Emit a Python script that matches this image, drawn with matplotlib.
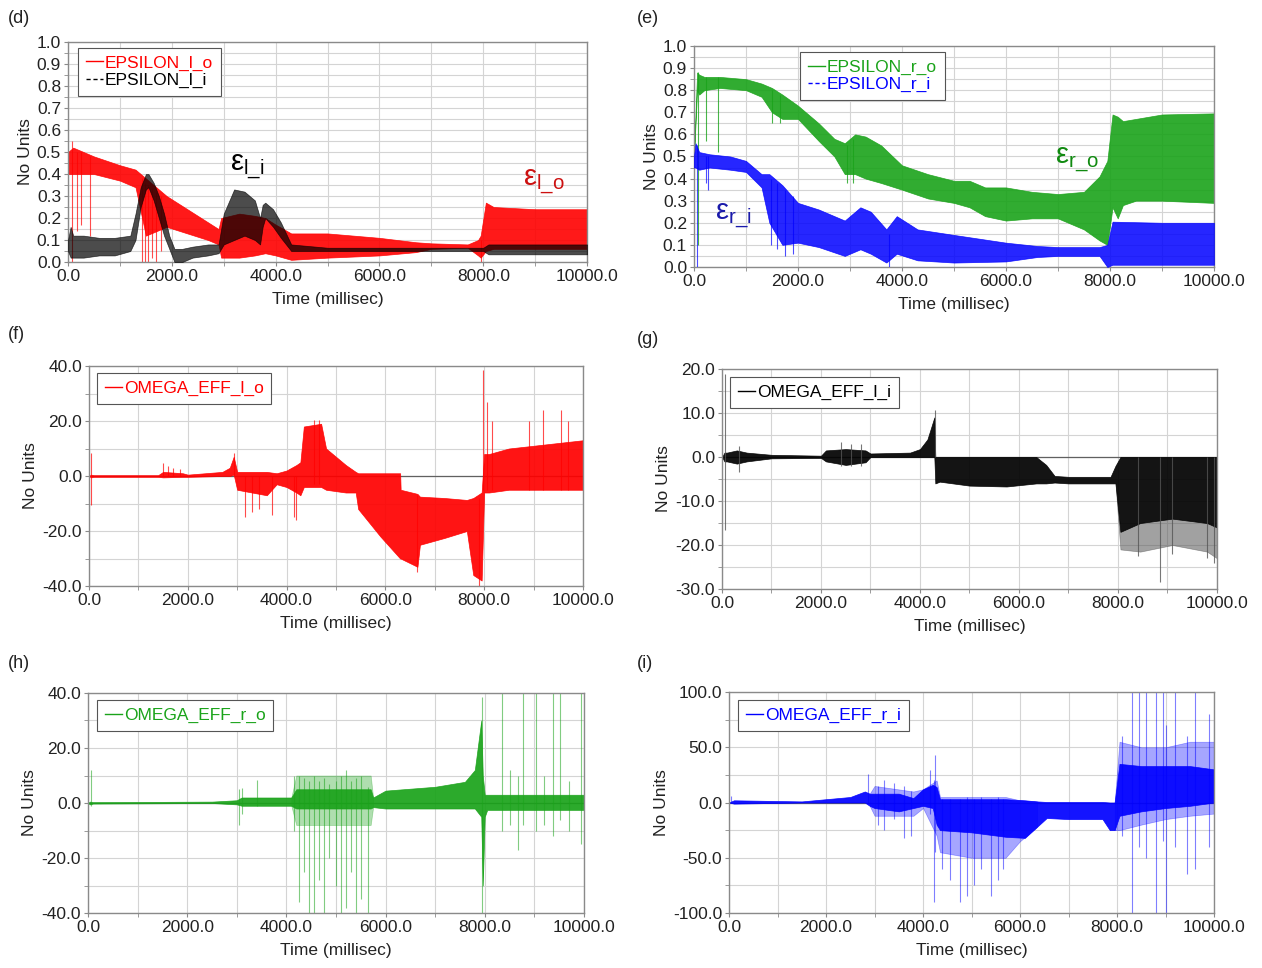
import matplotlib
matplotlib.use("Agg")
import matplotlib.pyplot as plt
from matplotlib.lines import Line2D
from matplotlib.ticker import MultipleLocator, FormatStrFormatter

plt.rcParams['font.family'] = ['Liberation Sans', 'DejaVu Sans']
plt.rcParams['font.size'] = 12

# ---------------- data ----------------
# (d) EPSILON_l_o  (dense oscillation envelope)
d_o_t  = [0, 100, 500, 1000, 1300, 1500, 1700, 1900, 2300, 2700, 2900, 2950, 3300, 3600, 3800, 4000, 4300, 5000, 6000, 6700, 7000, 7700, 7900, 7950, 8050, 8200, 9000, 10000]
d_o_hi = [0.50, 0.52, 0.48, 0.44, 0.42, 0.38, 0.34, 0.30, 0.24, 0.18, 0.15, 0.20, 0.22, 0.21, 0.20, 0.17, 0.13, 0.13, 0.11, 0.09, 0.085, 0.08, 0.10, 0.12, 0.27, 0.25, 0.24, 0.24]
d_o_lo = [0.40, 0.40, 0.40, 0.37, 0.34, 0.12, 0.14, 0.16, 0.13, 0.10, 0.08, 0.02, 0.02, 0.03, 0.04, 0.03, 0.01, 0.02, 0.03, 0.045, 0.06, 0.065, 0.03, 0.02, 0.05, 0.06, 0.06, 0.06]
d_o_sp_t  = [70, 170, 250, 420, 1420, 1480, 1550, 1620, 1700, 1800, 7950]
d_o_sp_lo = [0.0, 0.14, 0.17, 0.12, 0.0, 0.0, 0.0, 0.02, 0.0, 0.05, 0.0]
d_o_sp_hi = [0.55, 0.50, 0.50, 0.48, 0.38, 0.36, 0.35, 0.33, 0.32, 0.30, 0.10]
# (d) EPSILON_l_i
d_i_t  = [0, 50, 100, 300, 600, 900, 1200, 1300, 1400, 1500, 1550, 1650, 1750, 1850, 1950, 2050, 2200, 2400, 2700, 2900, 3000, 3200, 3400, 3600, 3700, 3750, 3800, 3950, 4100, 4300, 5000, 6000, 7000, 8000, 8100, 9000, 10000]
d_i_hi = [0.10, 0.16, 0.12, 0.12, 0.11, 0.11, 0.12, 0.22, 0.34, 0.40, 0.40, 0.36, 0.30, 0.22, 0.12, 0.06, 0.06, 0.07, 0.08, 0.08, 0.22, 0.33, 0.32, 0.28, 0.20, 0.26, 0.27, 0.24, 0.18, 0.08, 0.065, 0.065, 0.065, 0.065, 0.08, 0.08, 0.08]
d_i_lo = [0.05, 0.02, 0.02, 0.02, 0.03, 0.03, 0.05, 0.10, 0.25, 0.33, 0.34, 0.28, 0.20, 0.12, 0.06, 0.00, 0.00, 0.02, 0.03, 0.04, 0.08, 0.10, 0.12, 0.10, 0.08, 0.16, 0.20, 0.16, 0.11, 0.05, 0.05, 0.05, 0.05, 0.05, 0.035, 0.035, 0.035]

# (e) EPSILON_r_o
e_o_t  = [0, 60, 100, 200, 500, 1000, 1300, 1500, 1700, 2000, 2400, 2700, 2900, 3100, 3300, 3600, 4000, 4500, 5000, 5300, 5600, 6000, 6500, 7000, 7500, 7800, 7950, 8050, 8150, 8250, 8500, 9000, 10000]
e_o_hi = [0.50, 0.88, 0.87, 0.86, 0.86, 0.85, 0.83, 0.81, 0.78, 0.73, 0.65, 0.58, 0.56, 0.60, 0.59, 0.55, 0.46, 0.42, 0.39, 0.39, 0.36, 0.36, 0.34, 0.33, 0.34, 0.41, 0.48, 0.69, 0.68, 0.66, 0.67, 0.69, 0.695]
e_o_lo = [0.50, 0.80, 0.78, 0.80, 0.81, 0.80, 0.77, 0.70, 0.67, 0.67, 0.57, 0.50, 0.42, 0.42, 0.40, 0.38, 0.35, 0.31, 0.29, 0.27, 0.23, 0.21, 0.22, 0.22, 0.17, 0.12, 0.10, 0.27, 0.22, 0.28, 0.30, 0.30, 0.29]
e_o_sp_t  = [80, 240, 470, 1500, 1650, 2950, 3050]
e_o_sp_lo = [0.10, 0.57, 0.52, 0.65, 0.65, 0.38, 0.38]
e_o_sp_hi = [0.88, 0.86, 0.86, 0.80, 0.78, 0.55, 0.58]
# (e) EPSILON_r_i
e_i_t  = [0, 30, 100, 300, 700, 1000, 1300, 1450, 1700, 2000, 2400, 2900, 3200, 3400, 3700, 3900, 4300, 5000, 6000, 6600, 7000, 7800, 7950, 8050, 9000, 10000]
e_i_hi = [0.50, 0.56, 0.52, 0.51, 0.50, 0.48, 0.42, 0.42, 0.37, 0.29, 0.26, 0.21, 0.27, 0.25, 0.17, 0.23, 0.17, 0.145, 0.11, 0.095, 0.09, 0.09, 0.10, 0.205, 0.20, 0.20]
e_i_lo = [0.45, 0.45, 0.44, 0.45, 0.44, 0.43, 0.36, 0.20, 0.10, 0.11, 0.09, 0.05, 0.08, 0.06, 0.02, 0.06, 0.03, 0.02, 0.025, 0.045, 0.05, 0.05, 0.00, 0.01, 0.01, 0.01]
e_i_sp_t  = [60, 230, 265, 1480, 1600, 1750, 1900, 3750]
e_i_sp_lo = [0.0, 0.38, 0.35, 0.10, 0.08, 0.05, 0.06, 0.0]
e_i_sp_hi = [0.55, 0.50, 0.50, 0.40, 0.38, 0.35, 0.32, 0.15]

# (f) OMEGA_EFF_l_o
f_t  = [0, 40, 100, 1400, 1500, 1900, 2000, 2700, 2850, 2930, 3000, 3300, 3600, 3800, 4000, 4200, 4280, 4350, 4700, 4800, 5200, 5400, 5450, 5900, 6300, 6310, 6650, 6700, 7200, 7650, 7780, 7950, 8000, 8100, 8500, 9000, 9500, 10000]
f_hi = [0, 0.5, 0.3, 0.3, 1.5, 1.0, 0.5, 1.5, 3, 7, 1.5, 1.5, 1.5, 1.0, 2, 4, 5, 18, 19, 10, 4, 1.5, 1.0, 1.0, 1.0, -5, -6.5, -7.5, -8, -8.7, -8, -6, 8, 8, 10, 11, 12, 13]
f_lo = [0, -0.5, -0.3, -0.3, -0.5, -0.3, -0.3, 0.0, 0.0, 0.5, -5, -6, -7, -3, -4, -6, -7, -4, -4, -5, -6, -6, -12, -22, -30, -30, -33, -25, -22.5, -20, -36, -38, -6, -6, -5, -5, -5, -5]
f_sp_t  = [50, 1500, 1600, 1700, 1850, 2930, 3150, 3300, 3450, 3700, 4150, 4200, 4550, 4650, 6650, 7900, 7980, 8050, 8150, 8900, 9200, 9550, 9700]
f_sp_lo = [-10.5, 0, 0, 0, 0, 0, -15, -13, -12, -14, -15, -16, -3, -3, -35, -40, -5, -5, -5, -5, -5, -5, -5]
f_sp_hi = [8.3, 4.8, 3.5, 3, 2.5, 8.3, 0, 0, 0, 0, 0, 0, 20.5, 20.5, -7, -8, 38.5, 27, 20, 20, 24, 24, 20]

# (g) OMEGA_EFF_l_i
g_t  = [0, 50, 100, 300, 500, 1000, 2000, 2100, 2500, 2900, 3000, 3800, 4000, 4150, 4290, 4310, 4400, 5000, 5750, 6350, 6550, 6720, 7000, 7850, 7950, 8050, 8450, 9100, 9800, 10000]
g_hi = [0, 1, 1, 1.5, 1.0, 0.5, 0.3, 1.5, 1.8, 1.5, 0.8, 1.0, 1.8, 4, 9, 0, 0, 0, 0, 0, -1.8, -4.3, -4.5, -4.5, -2, 0, 0, 0, 0, 0]
g_lo = [0, -1, -1, -1.5, -1.0, -0.3, -0.2, -1.0, -1.8, -1.2, 0, 0, 0, 0, 0, -6, -5.6, -6.5, -6.7, -6, -6, -5.8, -6, -6, -6, -17, -15, -14, -15, -16]
g_faint_t  = [7950, 8050, 8450, 9100, 9800, 10000]
g_faint_hi = [-6, -17, -15, -14, -15, -16]
g_faint_lo = [-6, -21, -21.5, -20, -21.5, -23]
g_sp_t  = [60, 350, 2400, 2600, 2800, 4300, 8400, 8850, 9100, 9800, 9950]
g_sp_lo = [-16.6, -3.3, -2, -2, -2, 0, -22.5, -28.3, -22, -23, -24]
g_sp_hi = [18.8, 2.5, 3.5, 3, 3, 10.7, 0, 0, 0, 0, 0]

# (h) OMEGA_EFF_r_o
h_t  = [0, 40, 100, 2500, 3000, 3100, 4100, 4200, 5700, 5750, 6000, 7000, 7600, 7800, 7930, 7960, 8000, 8050, 10000]
h_hi = [0, 0.5, 0.3, 0.5, 1.0, 2.0, 2.0, 5, 5, 2, 4.5, 5.9, 7.7, 12, 30, 10, 3, 3, 3]
h_lo = [0, -0.5, -0.2, 0, -0.5, -1.0, -1.0, -2, -2, -1.5, -2, -2, -2, -2, -5, -30, -5, -2.5, -2.5]
h_faint_t  = [4100, 4200, 5700, 5750]
h_faint_hi = [2, 10, 10, 2]
h_faint_lo = [-1, -8, -8, -1.5]
h_sp_t  = [55, 3050, 3100, 3400, 4150, 4250, 4350, 4450, 4550, 4650, 4750, 4850, 5000, 5100, 5200, 5300, 5400, 5500, 5650, 7940, 8350, 8500, 8670, 8770, 9040, 9200, 9375, 9510, 9700, 9950]
h_sp_lo = [-1, -8, -4, -1, -10, -36, -25, -40, -40, -28, -40, -20, -30, -40, -38, -25, -40, -35, -40, -40, -10, -8, -17, -8, -10, -8, -12, -6, -10, -15]
h_sp_hi = [12, 5, 5.5, 8.4, 10, 10, 9, 8, 10, 8, 9, 7, 8, 10, 12, 8, 9, 10, 6, 38.7, 40, 12, 10, 40, 40, 10, 40, 40, 8, 40]

# (i) OMEGA_EFF_r_i
i_t  = [0, 100, 1500, 2000, 2500, 2800, 2900, 3000, 3500, 3800, 4000, 4200, 4280, 4350, 5000, 5700, 6100, 6350, 6550, 7000, 7700, 7850, 7950, 8050, 8500, 9000, 9500, 10000]
i_hi = [0, 2, 1, 3, 5, 10, 8, 8, 8, 4, 12, 16, 14, 3, 3, 3, 2, 1, 0.5, 0.5, 0.5, 0, 0, 35, 33, 33, 33, 30]
i_lo = [0, -1, 0, 0, 0, 0, -3, -5, -8, -5, -3, -5, -20, -25, -27, -31, -32, -22, -14, -15, -15, -25, -25, -12, -8, -5, -3, 0]
i_faint_t  = [2900, 3000, 3800, 4000, 4280, 4350, 5000, 5700, 6000, 6350]
i_faint_hi = [8, 15, 10, 12, 20, 5, 5, 5, 2, 1]
i_faint_lo = [-3, -12, -12, -5, -30, -45, -50, -50, -35, -22]
i_faint2_t  = [7950, 8050, 8500, 9000, 9500, 10000]
i_faint2_hi = [0, 55, 50, 50, 55, 55]
i_faint2_lo = [-25, -25, -20, -15, -12, -10]
i_sp_t  = [50, 2870, 3079, 3200, 3400, 3600, 3750, 4145, 4227, 4247, 4400, 4550, 4763, 4900, 5050, 5200, 5400, 5550, 5650, 8100, 8300, 8450, 8600, 8800, 8950, 9010, 9200, 9450, 9600, 9900, 10000]
i_sp_lo = [0, 0, -20, -25, -15, -32, -30, -10, -90, -45, -60, -70, -90, -85, -75, -60, -85, -70, -60, -30, -100, -40, -50, -100, -35, -100, -40, -65, -60, -40, -10]
i_sp_hi = [6, 26, 15, 20, 18, 15, 10, 29, 20, 43, 3, 3, 3, 5, 3, 5, 3, 5, 3, 60, 100, 100, 100, 100, 100, 70, 100, 60, 100, 80, 75]

RED = '#ff0000'
GREEN = '#1aa31a'
BLUE = '#0000ff'
BLACK = '#000000'
FS = 12.5

fig = plt.figure(figsize=(12.62, 9.68), dpi=100)

rects = {
    'd': [0.0539, 0.7293, 0.4113, 0.2273],
    'e': [0.5499, 0.7242, 0.4120, 0.2283],
    'f': [0.0705, 0.3946, 0.3914, 0.2273],
    'g': [0.5721, 0.3915, 0.3922, 0.2273],
    'h': [0.0697, 0.0568, 0.3930, 0.2273],
    'i': [0.5777, 0.0568, 0.3843, 0.2283],
}


def style_axes(ax, ylim, ymaj, ymin, zero_line=False):
    ax.set_xlim(0, 10000)
    ax.set_ylim(*ylim)
    ax.xaxis.set_major_locator(MultipleLocator(2000))
    ax.xaxis.set_minor_locator(MultipleLocator(1000))
    ax.yaxis.set_major_locator(MultipleLocator(ymaj))
    ax.yaxis.set_minor_locator(MultipleLocator(ymin))
    ax.xaxis.set_major_formatter(FormatStrFormatter('%.1f'))
    ax.yaxis.set_major_formatter(FormatStrFormatter('%.1f'))
    ax.grid(True, which='both', color='#d4d4d4', lw=0.8)
    ax.set_axisbelow(True)
    for s in ax.spines.values():
        s.set_color('#8a8a8a')
        s.set_linewidth(1.0)
    ax.tick_params(which='both', direction='out', color='#8a8a8a', labelsize=FS,
                   labelcolor='#222222', pad=2)
    ax.tick_params(which='major', length=3)
    ax.tick_params(which='minor', length=3)
    ax.set_xlabel('Time (millisec)', fontsize=FS, labelpad=6, color='#222222')
    ax.set_ylabel('No Units', fontsize=FS, color='#222222', labelpad=3)
    if zero_line:
        ax.axhline(0, color='#606060', lw=0.9, zorder=1.5)


def band(ax, t, lo, hi, color, alpha=0.92, z=2):
    ax.fill_between(t, lo, hi, color=color, alpha=alpha, lw=0.5, zorder=z)


def spikes(ax, t, lo, hi, color, alpha=0.55, z=2):
    ax.vlines(t, lo, hi, color=color, lw=0.8, alpha=alpha, zorder=z)


def legend(ax, entries, anchor):
    handles = [Line2D([], [], color=c, lw=1.0, ls=ls) for _, c, ls in entries]
    labels = [lab for lab, _, _ in entries]
    leg = ax.legend(handles, labels, loc='upper left', bbox_to_anchor=anchor,
                    borderaxespad=0, fancybox=False, framealpha=1,
                    edgecolor='#555555', fontsize=FS, handlelength=1.0,
                    handletextpad=0.1, borderpad=0.45, labelspacing=0.12)
    leg.get_frame().set_linewidth(0.8)
    for txt, (_, c, _) in zip(leg.get_texts(), entries):
        txt.set_color(c)
    leg.set_zorder(10)


# (d)
ax = fig.add_axes(rects['d'])
style_axes(ax, (0, 1.0), 0.1, 0.05)
band(ax, d_o_t, d_o_lo, d_o_hi, RED, alpha=0.9)
spikes(ax, d_o_sp_t, d_o_sp_lo, d_o_sp_hi, RED, alpha=0.7)
band(ax, d_i_t, d_i_lo, d_i_hi, BLACK, alpha=0.7, z=3)
legend(ax, [('EPSILON_l_o', RED, '-'), ('EPSILON_l_i', BLACK, (0, (3, 2)))], (0.019, 0.975))
ax.text(3120, 0.43, 'ε$_{\\mathregular{l\\_i}}$', fontsize=21, color=BLACK, va='center')
ax.text(8760, 0.36, 'ε$_{\\mathregular{l\\_o}}$', fontsize=21, color='#cc1010', va='center')

# (e)
ax = fig.add_axes(rects['e'])
style_axes(ax, (0, 1.0), 0.1, 0.05)
band(ax, e_o_t, e_o_lo, e_o_hi, GREEN, alpha=0.9)
spikes(ax, e_o_sp_t, e_o_sp_lo, e_o_sp_hi, GREEN, alpha=0.8)
band(ax, e_i_t, e_i_lo, e_i_hi, BLUE, alpha=0.85, z=3)
spikes(ax, e_i_sp_t, e_i_sp_lo, e_i_sp_hi, BLUE, alpha=0.7, z=3)
legend(ax, [('EPSILON_r_o', GREEN, '-'), ('EPSILON_r_i', BLUE, (0, (3, 2)))], (0.204, 0.973))
ax.text(6940, 0.48, 'ε$_{\\mathregular{r\\_o}}$', fontsize=21, color='#108a10', va='center')
ax.text(400, 0.23, 'ε$_{\\mathregular{r\\_i}}$', fontsize=21, color='#1a1aaa', va='center')

# (f)
ax = fig.add_axes(rects['f'])
style_axes(ax, (-40, 40), 20, 10, zero_line=True)
band(ax, f_t, f_lo, f_hi, RED, alpha=0.92)
spikes(ax, f_sp_t, f_sp_lo, f_sp_hi, RED, alpha=0.7)
legend(ax, [('OMEGA_EFF_l_o', RED, '-')], (0.016, 0.968))

# (g)
ax = fig.add_axes(rects['g'])
style_axes(ax, (-30, 20), 10, 5, zero_line=True)
band(ax, g_faint_t, g_faint_lo, g_faint_hi, '#555555', alpha=0.55)
band(ax, g_t, g_lo, g_hi, BLACK, alpha=0.92)
spikes(ax, g_sp_t, g_sp_lo, g_sp_hi, '#555555', alpha=0.8)
legend(ax, [('OMEGA_EFF_l_i', BLACK, '-')], (0.016, 0.964))

# (h)
ax = fig.add_axes(rects['h'])
style_axes(ax, (-40, 40), 20, 10, zero_line=True)
band(ax, h_faint_t, h_faint_lo, h_faint_hi, GREEN, alpha=0.35)
band(ax, h_t, h_lo, h_hi, GREEN, alpha=0.92)
spikes(ax, h_sp_t, h_sp_lo, h_sp_hi, GREEN, alpha=0.55)
legend(ax, [('OMEGA_EFF_r_o', GREEN, '-')], (0.018, 0.968))

# (i)
ax = fig.add_axes(rects['i'])
style_axes(ax, (-100, 100), 50, 25, zero_line=True)
band(ax, i_faint_t, i_faint_lo, i_faint_hi, BLUE, alpha=0.35)
band(ax, i_faint2_t, i_faint2_lo, i_faint2_hi, BLUE, alpha=0.35)
band(ax, i_t, i_lo, i_hi, BLUE, alpha=0.92)
spikes(ax, i_sp_t, i_sp_lo, i_sp_hi, BLUE, alpha=0.5)
legend(ax, [('OMEGA_EFF_r_i', BLUE, '-')], (0.019, 0.964))

# panel letters
for lab, x, y in [('(d)', 0.006, 0.981), ('(e)', 0.505, 0.981), ('(f)', 0.006, 0.654),
                  ('(g)', 0.505, 0.649), ('(h)', 0.006, 0.315), ('(i)', 0.505, 0.315)]:
    fig.text(x, y, lab, fontsize=13, va='center', ha='left', color='#222222')

fig.savefig('out.png', dpi=100)
